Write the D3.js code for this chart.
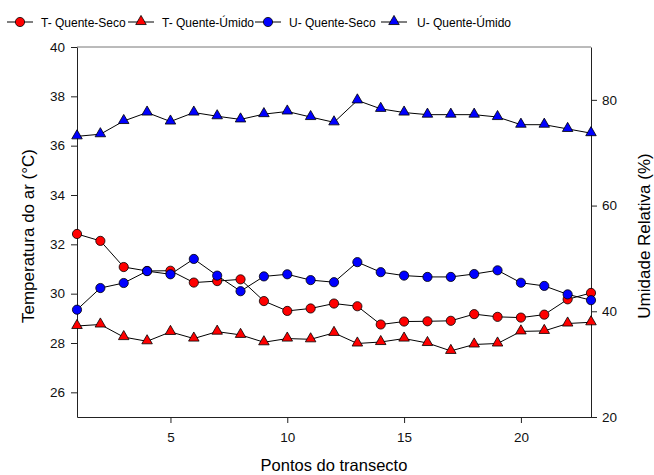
<!DOCTYPE html>
<html>
<head>
<meta charset="utf-8">
<script src="https://cdn.jsdelivr.net/npm/d3@7"></script>
<style>
  body { margin: 0; background: #fff; }
  svg { font-family: "Liberation Sans", Arial, sans-serif; }
  .axis path, .axis line { stroke: #222; }
  .axis text { font-size: 13.5px; fill: #111; }
</style>
</head>
<body>
<div id="chart"></div>
<script>
// ── Data ──────────────────────────────────────────────────────────────────
const pontos = d3.range(1, 24);
const tSeco = [32.42, 32.14, 31.08, 30.92, 30.93, 30.45, 30.51, 30.58, 29.7, 29.3, 29.4, 29.6,
  29.49, 28.75, 28.87, 28.88, 28.9, 29.17, 29.06, 29.03, 29.15, 29.77, 30.03];
const tUmido = [28.69, 28.75, 28.24, 28.07, 28.45, 28.18, 28.46, 28.33, 28.03, 28.18, 28.15, 28.41,
  27.98, 28.04, 28.18, 28.0, 27.68, 27.94, 27.98, 28.47, 28.49, 28.79, 28.84];
const uSeco = [40.3, 44.4, 45.35, 47.6, 47.0, 49.9, 46.75, 43.8, 46.6, 47.0, 45.9, 45.5,
  49.3, 47.4, 46.75, 46.5, 46.5, 47.05, 47.75, 45.4, 44.8, 43.2, 42.1];
const uUmido = [73.1, 73.5, 76.0, 77.6, 75.9, 77.6, 76.9, 76.3, 77.3, 77.8, 76.75, 75.75,
  79.9, 78.3, 77.6, 77.2, 77.2, 77.2, 76.75, 75.3, 75.3, 74.5, 73.7];

const xTicks = [5, 10, 15, 20];
const yLeftTicks = [26, 28, 30, 32, 34, 36, 38, 40];
const yRightTicks = [20, 40, 60, 80];

const series = [
  { name: "T- Quente-Seco", values: tSeco, axis: "left", shape: "circle", color: "#ff0000" },
  { name: "T- Quente-Úmido", values: tUmido, axis: "left", shape: "triangle", color: "#ff0000" },
  { name: "U- Quente-Seco", values: uSeco, axis: "right", shape: "circle", color: "#0000ff" },
  { name: "U- Quente-Úmido", values: uUmido, axis: "right", shape: "triangle", color: "#0000ff" },
];

// ── Dimensions ────────────────────────────────────────────────────────────
const W = 654, H = 475;
const margin = { top: 47, right: 63, bottom: 58, left: 77 };
const width = W - margin.left - margin.right;
const height = H - margin.top - margin.bottom;

const svg = d3.select("#chart").append("svg").attr("width", W).attr("height", H);
const g = svg.append("g").attr("transform", `translate(${margin.left},${margin.top})`);

// ── Scales ────────────────────────────────────────────────────────────────
const x = d3.scaleLinear().domain([1, 23]).range([0, width]);
const yL = d3.scaleLinear().domain([25, 40]).range([height, 0]);
const yR = d3.scaleLinear().domain([20, 90]).range([height, 0]);

// ── Frame & Axes ──────────────────────────────────────────────────────────
g.append("line").attr("x1", 0).attr("x2", width).attr("y1", 0).attr("y2", 0)
  .attr("stroke", "#777").attr("stroke-width", 1);

g.append("g").attr("class", "axis").attr("transform", `translate(0,${height})`)
  .call(d3.axisBottom(x).tickValues(xTicks).tickSize(6).tickPadding(9).tickSizeOuter(0));

g.append("g").attr("class", "axis")
  .call(d3.axisLeft(yL).tickValues(yLeftTicks).tickSize(6).tickPadding(6).tickSizeOuter(0));

g.append("g").attr("class", "axis").attr("transform", `translate(${width},0)`)
  .call(d3.axisRight(yR).tickValues(yRightTicks).tickSize(6).tickPadding(5).tickSizeOuter(0));

// ── Axis Labels ───────────────────────────────────────────────────────────
svg.append("text").attr("x", 334).attr("y", 471)
  .attr("text-anchor", "middle").style("font-size", "16.5px").text("Pontos do transecto");

svg.append("text").attr("transform", "translate(34,236) rotate(-90)")
  .attr("text-anchor", "middle").style("font-size", "17px").text("Temperatura do ar (°C)");

svg.append("text").attr("transform", "translate(650,236) rotate(-90)")
  .attr("text-anchor", "middle").style("font-size", "17px").text("Umidade Relativa (%)");

// ── Markers ───────────────────────────────────────────────────────────────
const tri = d3.symbol().type(d3.symbolTriangle).size(48);

function drawMarker(sel, s) {
  if (s.shape === "circle") {
    sel.append("circle").attr("r", 4.6).attr("fill", s.color)
      .attr("stroke", "#000").attr("stroke-width", 0.8);
  } else {
    sel.append("path").attr("d", tri).attr("transform", "translate(0,-0.5)")
      .attr("fill", s.color).attr("stroke", "#000").attr("stroke-width", 0.8);
  }
}

// ── Lines & Points ────────────────────────────────────────────────────────
series.forEach((s) => {
  const yS = s.axis === "left" ? yL : yR;
  const line = d3.line().x((d, i) => x(pontos[i])).y((d) => yS(d));
  g.append("path").datum(s.values).attr("d", line)
    .attr("fill", "none").attr("stroke", "#000").attr("stroke-width", 1);
});

series.forEach((s) => {
  const yS = s.axis === "left" ? yL : yR;
  g.selectAll(null).data(s.values).join("g")
    .attr("transform", (d, i) => `translate(${x(pontos[i])},${yS(d)})`)
    .each(function () { drawMarker(d3.select(this), s); });
});

// ── Legend ────────────────────────────────────────────────────────────────
const legendX = [7, 128, 255, 381];
const legend = svg.append("g").attr("transform", "translate(0,22)");
series.forEach((s, i) => {
  const row = legend.append("g").attr("transform", `translate(${legendX[i]},0)`);
  row.append("line").attr("x1", 0).attr("x2", 26).attr("stroke", "#000").attr("stroke-width", 1);
  drawMarker(row.append("g").attr("transform", "translate(13,0)"), s);
  row.append("text").attr("x", i === 3 ? 36 : 34).attr("y", 4.5)
    .style("font-size", "12px").text(s.name);
});
</script>
</body>
</html>
